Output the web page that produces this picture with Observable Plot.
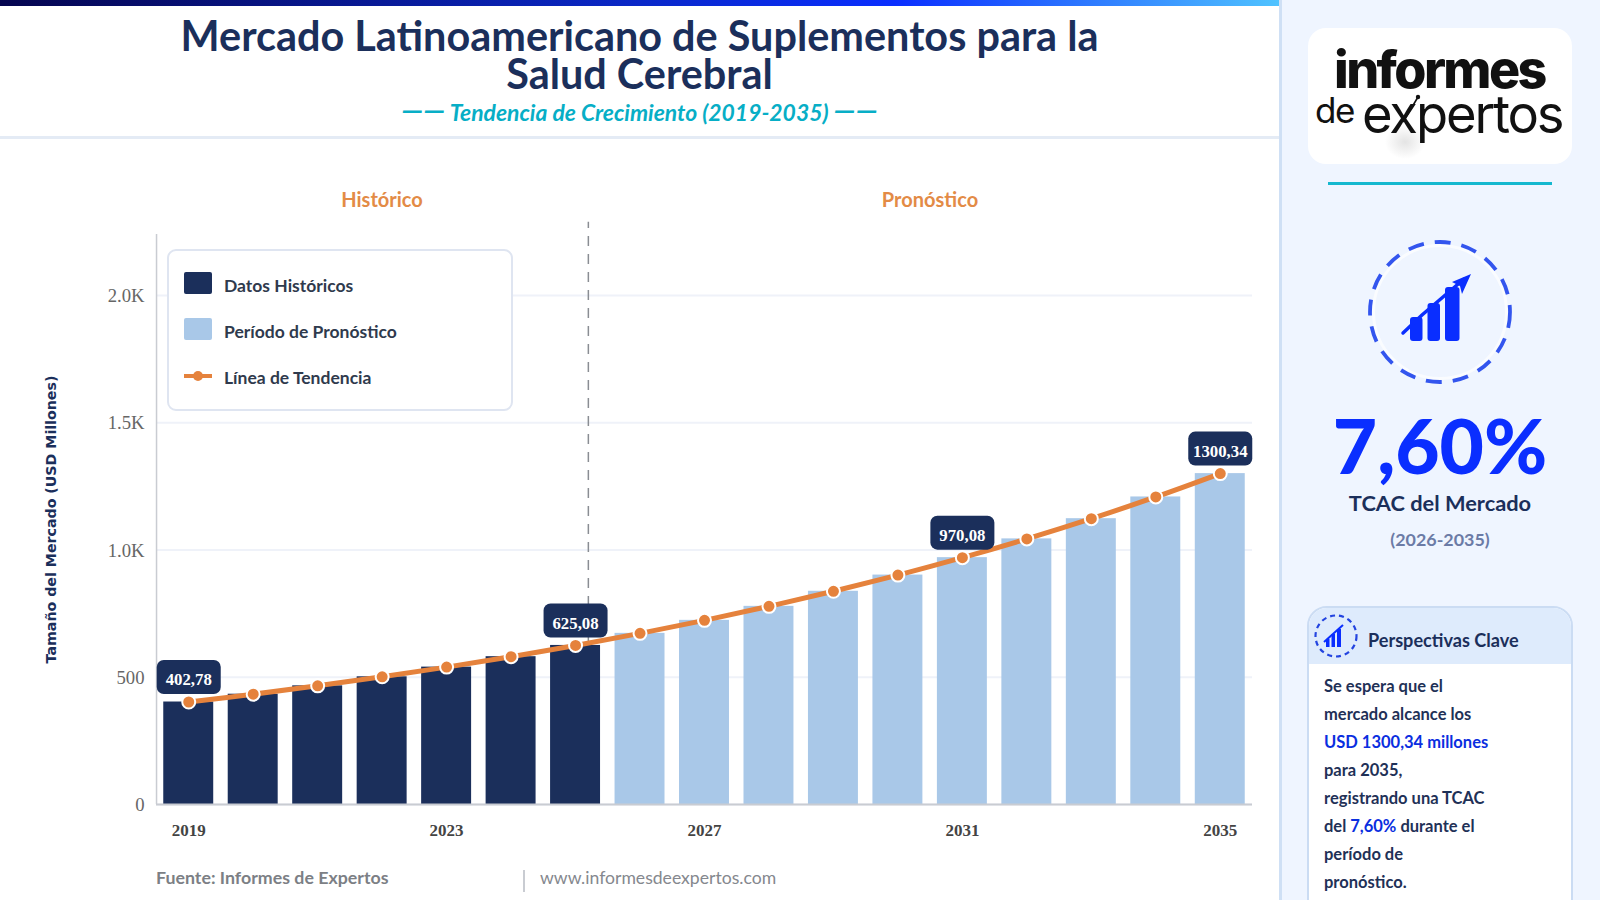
<!DOCTYPE html>
<html lang="es"><head><meta charset="utf-8">
<script src="https://cdn.jsdelivr.net/npm/d3@7"></script>
<script src="https://cdn.jsdelivr.net/npm/@observablehq/plot@0.6"></script>
<style>
html,body{margin:0;padding:0;width:1600px;height:900px;overflow:hidden;background:#fff;font-family:Lato,sans-serif}
.t{position:absolute;white-space:nowrap}
.c{text-align:center}
#top{position:absolute;left:0;top:0;width:1279px;height:6px;background:linear-gradient(90deg,#05054f 0%,#0a28c8 50%,#0a2eff 70%,#4fc3ff 100%)}
#hdr{position:absolute;left:0;top:136px;width:1279px;height:3px;background:#e4ebf5}
#side{position:absolute;left:1279px;top:0;width:321px;height:900px;background:#eff5ff;border-left:3px solid #cfe0f5;box-sizing:border-box}
#chart{position:absolute;left:0;top:200px}
#legend{position:absolute;left:167px;top:249px;width:346px;height:162px;box-sizing:border-box;background:#fff;border:2px solid #dfe5f1;border-radius:9px}
.sw{position:absolute;left:184px;width:28px;height:22px;border-radius:2px}
.lg{left:224px;font-size:17.5px;font-weight:700;color:#2f3a4d;line-height:22px}
#logo{position:absolute;left:1308px;top:28px;width:264px;height:136px;background:#fff;border-radius:18px}
#card{position:absolute;left:1307px;top:606px;width:266px;height:320px;box-sizing:border-box;background:#fff;border:2px solid #cbdcf3;border-radius:20px;overflow:hidden}
#cardh{position:absolute;left:0;top:0;width:100%;height:56px;background:#deebfc}
.b{left:1324px;font-size:16.5px;font-weight:700;color:#1f3157;line-height:20px}
.b span{color:#0a2ee0}
</style></head><body>
<div id="top"></div>
<div class="t c" style="left:0;width:1279px;top:17px;font-size:41.4px;font-weight:700;color:#1b2f5b;line-height:37.5px">Mercado Latinoamericano de Suplementos para la<br>Salud Cerebral</div>
<div class="t c" style="left:0;width:1279px;top:97px;font-size:22.9px;font-weight:700;font-style:italic;color:#07aec6;line-height:24px"><span style="font-size:30px;line-height:24px">——</span> Tendencia de Crecimiento (2019-2035) <span style="font-size:30px;line-height:24px">——</span></div>
<div id="hdr"></div>
<div class="t c" style="left:282px;width:200px;top:187px;font-size:20px;font-weight:700;color:#e38b46;line-height:24px">Histórico</div>
<div class="t c" style="left:830px;width:200px;top:187px;font-size:20px;font-weight:700;color:#e38b46;line-height:24px">Pronóstico</div>
<div id="chart"></div>
<div id="legend"></div>
<div class="sw" style="top:272px;background:#1b2f5b"></div>
<div class="sw" style="top:318px;background:#a9c8e8"></div>
<svg class="t" style="left:184px;top:366px" width="28" height="20"><line x1="0" x2="28" y1="10" y2="10" stroke="#e5823c" stroke-width="4"/><circle cx="14" cy="10" r="5" fill="#e5823c"/></svg>
<div class="t lg" style="top:275px">Datos Históricos</div>
<div class="t lg" style="top:321px">Período de Pronóstico</div>
<div class="t lg" style="top:367px">Línea de Tendencia</div>
<div class="t" style="left:156px;top:866px;font-size:17.8px;font-weight:700;color:#7c7f85;line-height:22px">Fuente: Informes de Expertos</div>
<div style="position:absolute;left:523px;top:870px;width:2px;height:22px;background:#c9ccd2"></div>
<div class="t" style="left:540px;top:867px;font-size:17.6px;color:#85888e;line-height:22px">www.informesdeexpertos.com</div>

<div id="side"></div>
<div id="logo"></div>
<div style="position:absolute;left:1385px;top:125px;width:40px;height:34px;background:radial-gradient(closest-side,#e4e4e4,rgba(255,255,255,0))"></div>
<div class="t" style="left:1334px;top:40px;font-family:Inter,sans-serif;font-size:52px;font-weight:800;letter-spacing:-2.6px;color:#111;line-height:60px">informes</div>
<div class="t" style="left:1315px;top:93px;font-family:Inter,sans-serif;font-size:35px;font-weight:400;letter-spacing:-1.5px;color:#111;line-height:34px">de</div>
<div class="t" style="left:1362px;top:87px;font-family:Inter,sans-serif;font-size:52.5px;font-weight:400;letter-spacing:-2.1px;color:#111;line-height:54px">expertos</div>
<svg class="t" style="left:1395px;top:90px" width="30" height="40"><path d="M8 32 L23 7" stroke="#111" stroke-width="1.6"/><circle cx="23" cy="7" r="2.2" fill="#111"/></svg>
<div style="position:absolute;left:1328px;top:182px;width:224px;height:3px;background:#15b8cf"></div>
<svg class="t" style="left:1360px;top:232px" width="160" height="160">
 <circle cx="80" cy="80" r="66.5" fill="none" stroke="#fafcff" stroke-width="3"/>
 <circle cx="80" cy="80" r="70" fill="none" stroke="#3355ee" stroke-width="3.8" stroke-dasharray="16 11"/>
 <g fill="#0a2eff"><rect x="50" y="85" width="12.5" height="24" rx="3"/><rect x="67.5" y="71" width="12.5" height="38" rx="3"/><rect x="85" y="55" width="14.5" height="54" rx="3"/></g>
 <path d="M43 101 L62 83 L83 65 L104 47" fill="none" stroke="#0a2eff" stroke-width="3.5" stroke-linecap="round"/>
 <path d="M111 42 L92 50 L100 54 L102 62Z" fill="#0a2eff"/>
</svg>
<div class="t c" style="left:1280px;width:320px;top:398px;font-size:76.5px;font-weight:900;color:#0a2eff;line-height:92px">7,60%</div>
<div class="t c" style="left:1280px;width:320px;top:490px;font-size:21.8px;font-weight:700;color:#1b2f5b;line-height:26px">TCAC del Mercado</div>
<div class="t c" style="left:1280px;width:320px;top:527px;font-size:17.9px;font-weight:700;color:#6b7ba6;line-height:24px">(2026-2035)</div>
<div id="card"><div id="cardh"></div></div>
<svg class="t" style="left:1312px;top:612px" width="48" height="48">
 <circle cx="24" cy="24" r="20.5" fill="none" stroke="#2344e0" stroke-width="2.2" stroke-dasharray="5 4"/>
 <g fill="#0a2eff"><rect x="14" y="27" width="3.5" height="8"/><rect x="19.5" y="22" width="3.5" height="13"/><rect x="25" y="17" width="4" height="18"/></g>
 <path d="M12 30 L31 13" stroke="#0a2eff" stroke-width="2"/>
</svg>
<div class="t" style="left:1368px;top:628px;font-size:18.1px;font-weight:700;color:#1b2f5b;line-height:24px">Perspectivas Clave</div>
<div class="t b" style="top:676px">Se espera que el</div>
<div class="t b" style="top:704px">mercado alcance los</div>
<div class="t b" style="top:732px"><span>USD 1300,34 millones</span></div>
<div class="t b" style="top:760px">para 2035,</div>
<div class="t b" style="top:788px">registrando una TCAC</div>
<div class="t b" style="top:816px">del <span>7,60%</span> durante el</div>
<div class="t b" style="top:844px">período de</div>
<div class="t b" style="top:872px">pronóstico.</div>

<script>
const years=[2019,2020,2021,2022,2023,2024,2025,2026,2027,2028,2029,2030,2031,2032,2033,2034,2035];
const values=[402.78,433.4,466.3,501.8,539.9,580.9,625.08,672.6,723.7,778.7,837.9,901.6,970.08,1043.8,1123.2,1208.6,1300.34];
const yTicks=[0,500,1000,1500,2000];
const yTickLabels=["0","500","1.0K","1.5K","2.0K"];
const xTicks=[2019,2023,2027,2031,2035];
const labelledYears=[2019,2025,2031,2035];
const labelTexts=["402,78","625,08","970,08","1300,34"];
const lastHistorical=2025;
const NAVY="#1b2f5b",LIGHT="#a9c8e8",ORANGE="#e5823c";
const rows=years.map((year,i)=>({year,value:values[i]}));
const labelled=labelledYears.map((year,i)=>({year,value:values[years.indexOf(year)],text:labelTexts[i]}));
const badge={draw(ctx){const w=32,h=17,r=7;
 ctx.moveTo(-w+r,-h);ctx.lineTo(w-r,-h);ctx.arcTo(w,-h,w,-h+r,r);ctx.lineTo(w,h-r);ctx.arcTo(w,h,w-r,h,r);
 ctx.lineTo(-w+r,h);ctx.arcTo(-w,h,-w,h-r,r);ctx.lineTo(-w,-h+r);ctx.arcTo(-w,-h,-w+r,-h,r);ctx.closePath();}};
const SERIF="'Liberation Serif',serif";
const chart=Plot.plot({
 width:1279,height:660,marginLeft:156,marginRight:27,marginTop:34,marginBottom:56,
 style:{background:"transparent",overflow:"visible"},
 x:{domain:years,paddingInner:0.225,paddingOuter:0.1125,round:false,label:null},
 y:{domain:[0,2240],label:null},
 marks:[
  Plot.gridY(yTicks,{stroke:"#eff2f9",strokeOpacity:1,strokeWidth:2}),
  Plot.ruleX([lastHistorical],{x:d=>d,y1:0,y2:2288,dx:12.8,stroke:"#8a8d93",strokeWidth:1.5,strokeDasharray:"10,8"}),
  Plot.barY(rows.filter(d=>d.year<=lastHistorical),{x:"year",y:"value",fill:NAVY}),
  Plot.barY(rows.filter(d=>d.year>lastHistorical),{x:"year",y:"value",fill:LIGHT}),
  Plot.ruleX([years[0]],{x:d=>d,y1:0,y2:2240,dx:-32.2,stroke:"#c9ccd2",strokeWidth:1.5}),
  Plot.ruleY([0],{stroke:"#c9ccd2",strokeWidth:2}),
  Plot.axisY({ticks:yTicks,tickFormat:d=>yTickLabels[yTicks.indexOf(d)],tickSize:0,tickPadding:12,dy:0.5,label:null,fontFamily:SERIF,fontSize:18.7,fill:"#666"}),
  Plot.axisX({ticks:xTicks,tickSize:0,tickPadding:19,label:null,fontFamily:SERIF,fontSize:17,fontWeight:700,fill:"#444",tickFormat:d=>String(d)}),
  Plot.text(["Tamaño del Mercado (USD Millones)"],{frameAnchor:"left",textAnchor:"middle",rotate:-90,dx:-105,fontFamily:"'DejaVu Sans',sans-serif",fontSize:14.2,fontWeight:700,fill:NAVY}),
  Plot.line(rows,{x:"year",y:"value",stroke:ORANGE,strokeWidth:5,curve:"catmull-rom"}),
  Plot.dot(rows,{x:"year",y:"value",r:6.5,fill:ORANGE,stroke:"#fff",strokeWidth:2}),
  Plot.dot(labelled,{x:"year",y:"value",dy:-25,symbol:badge,r:10,fill:NAVY,stroke:"none"}),
  Plot.text(labelled,{x:"year",y:"value",text:"text",dy:-22,fontFamily:SERIF,fontSize:16.8,fontWeight:700,fill:"#fff"})
 ]
});
document.getElementById("chart").appendChild(chart);
</script>
</body></html>
